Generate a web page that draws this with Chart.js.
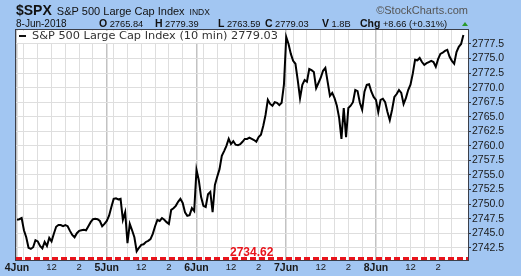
<!doctype html>
<html lang="en">
<head>
<meta charset="utf-8">
<title>$SPX</title>
<script src="https://cdn.jsdelivr.net/npm/chart.js@4"></script>
<style>
	html, body { margin: 0; padding: 0; background: #a2c6f2; }
	#wrap { width: 521px; height: 276px; }
</style>
</head>
<body>
<div id="wrap"><canvas id="spxChart" width="521" height="276"></canvas></div>
<script>
// 10 minute closes, 39 bars per session
const days = ['4Jun', '5Jun', '6Jun', '7Jun', '8Jun'];
const barsPerDay = 39;
const jun4 = [2747.3, 2747.4, 2747.6, 2745.5, 2744.3, 2742.5, 2742.3, 2742.6, 2743.8, 2743.6,
	2742.8, 2742.4, 2743.5, 2742.8, 2744.2, 2743.6, 2744.9, 2746.1, 2746.4, 2746.4,
	2746.2, 2746.4, 2746.2, 2745.4, 2744.7, 2744.3, 2745.0, 2745.4, 2745.5, 2745.6,
	2745.5, 2746.2, 2746.9, 2747.4, 2747.5, 2747.4, 2747.1, 2746.2, 2746.6];
const jun5 = [2747.1, 2748.0, 2749.5, 2750.9, 2751.0, 2750.8, 2750.9, 2747.3, 2748.6, 2743.3,
	2746.6, 2745.5, 2744.3, 2741.9, 2742.5, 2743.0, 2743.1, 2743.5, 2743.7, 2744.0,
	2744.9, 2746.2, 2747.3, 2747.1, 2747.6, 2747.3, 2746.9, 2746.6, 2749.0, 2749.3,
	2749.7, 2750.4, 2750.9, 2750.2, 2748.6, 2748.0, 2748.1, 2749.3, 2748.8];
const jun6 = [2755.9, 2754.1, 2751.2, 2749.7, 2749.5, 2751.7, 2752.1, 2748.6, 2753.3, 2754.7,
	2756.0, 2758.3, 2759.1, 2760.0, 2761.2, 2760.3, 2760.8, 2760.2, 2760.1, 2760.3,
	2760.7, 2761.2, 2761.2, 2761.4, 2761.2, 2761.0, 2760.7, 2761.5, 2761.9, 2763.4,
	2765.3, 2767.9, 2767.2, 2766.9, 2767.5, 2767.4, 2767.0, 2767.4, 2770.5];
const jun7 = [2778.7, 2777.5, 2775.8, 2774.6, 2774.1, 2771.3, 2768.2, 2770.5, 2771.3, 2771.0,
	2773.2, 2773.0, 2772.7, 2769.9, 2770.8, 2771.7, 2772.9, 2773.4, 2771.0, 2768.6,
	2769.1, 2768.2, 2766.9, 2764.8, 2761.2, 2766.5, 2761.5, 2766.5, 2766.9, 2767.5,
	2769.6, 2769.4, 2767.4, 2766.2, 2769.3, 2770.5, 2770.6, 2769.3, 2768.4];
const jun8 = [2767.9, 2765.8, 2767.9, 2768.1, 2767.5, 2765.8, 2764.4, 2766.2, 2768.4, 2768.9,
	2769.6, 2769.1, 2767.2, 2768.2, 2769.6, 2770.5, 2772.4, 2774.8, 2774.7, 2775.1,
	2774.4, 2773.9, 2774.2, 2774.4, 2774.6, 2774.4, 2773.6, 2774.9, 2775.8, 2776.0,
	2776.3, 2776.5, 2775.3, 2774.6, 2774.1, 2776.1, 2777.0, 2777.5, 2779.03];

const yTicks = [2742.5, 2745.0, 2747.5, 2750.0, 2752.5, 2755.0, 2757.5, 2760.0,
	2762.5, 2765.0, 2767.5, 2770.0, 2772.5, 2775.0, 2777.5];
const hourBars = [0, 3, 9, 15, 21, 27, 33]; // grid lines inside a session
const noonBar = 15, twoBar = 27;
const prevClose = 2734.62;

const header = {
	symbol: '$SPX', name: 'S&P 500 Large Cap Index', exch: 'INDX', date: '8-Jun-2018',
	quote: [['O', '2765.84'], ['H', '2779.39'], ['L', '2763.59'], ['C', '2779.03'], ['V', '1.8B'], ['Chg', '+8.66 (+0.31%)']],
	legend: 'S&P 500 Large Cap Index (10 min) 2779.03'
};

var closes = [].concat(jun4, jun5, jun6, jun7, jun8);
var points = closes.map((v, i) => ({x: i, y: v}));

var xTickVals = [];
days.forEach((d, k) => hourBars.forEach(h => xTickVals.push(k * barsPerDay + h)));

const SANS = '"Liberation Sans", Arial, sans-serif';

const decor = {
	id: 'decor',
	beforeDraw(chart) {
		const c = chart.ctx, a = chart.chartArea;
		c.save();
		c.fillStyle = '#a2c6f2';
		c.fillRect(0, 0, chart.width, chart.height);
		c.fillStyle = '#ffffff';
		c.fillRect(a.left, a.top, a.right - a.left, a.bottom - a.top);
		c.restore();
	},
	beforeDatasetsDraw(chart) {
		const c = chart.ctx, a = chart.chartArea;
		c.save();
		// legend box
		c.fillStyle = '#ffffff';
		c.fillRect(a.left + 1, a.top + 1, 264, 12);
		c.strokeStyle = '#111';
		c.lineWidth = 2;
		c.beginPath(); c.moveTo(a.left + 3, a.top + 6); c.lineTo(a.left + 10, a.top + 6); c.stroke();
		c.font = '10px "DejaVu Sans", Verdana, sans-serif';
		var w = c.measureText(header.legend).width;
		var fs = 10 * 246 / w;
		c.font = fs.toFixed(2) + 'px "DejaVu Sans", Verdana, sans-serif';
		c.fillStyle = '#333';
		c.textBaseline = 'middle';
		c.fillText(header.legend, a.left + 16, a.top + 6);
		// previous close line, off the scale so pinned to the bottom
		var yScale = chart.scales.y;
		var py = Math.min(yScale.getPixelForValue(prevClose), a.bottom - 1.5);
		c.strokeStyle = '#e8141c';
		c.lineWidth = 3;
		c.setLineDash([6, 3]);
		c.beginPath(); c.moveTo(a.left, py); c.lineTo(a.right, py); c.stroke();
		c.setLineDash([]);
		c.font = 'bold 12px ' + SANS;
		c.fillStyle = '#e8141c';
		c.textBaseline = 'alphabetic';
		c.fillText(prevClose.toFixed(2), 230, py - 3);
		c.restore();
	},
	afterDraw(chart) {
		const c = chart.ctx, a = chart.chartArea;
		c.save();
		// plot frame
		c.strokeStyle = '#3b3f4a';
		c.lineWidth = 1;
		c.strokeRect(a.left - 0.5, a.top - 0.5, a.right - a.left + 1, a.bottom - a.top + 1);
		// title line
		c.fillStyle = '#111';
		c.textBaseline = 'alphabetic';
		c.font = 'bold 14px ' + SANS;
		c.fillText(header.symbol, 16, 15);
		var x = 16 + c.measureText(header.symbol).width + 5;
		c.font = '11px ' + SANS;
		c.fillText(header.name, x, 15);
		x += c.measureText(header.name).width + 5;
		c.font = '8.5px ' + SANS;
		c.fillText(header.exch, x, 15);
		c.font = '10px ' + SANS;
		c.fillText(header.date, 16, 27);
		// quote line
		var qx = [99, 155, 218, 265, 322, 360];
		header.quote.forEach((q, i) => {
			c.font = 'bold 10.5px ' + SANS;
			c.fillText(q[0], qx[i], 27);
			var lw = c.measureText(q[0]).width;
			c.font = '9.3px ' + SANS;
			c.fillText(q[1], qx[i] + lw + 2.5, 27);
		});
		c.fillStyle = '#2a9a2a';
		c.beginPath(); c.moveTo(462, 26); c.lineTo(468, 26); c.lineTo(465, 22); c.closePath(); c.fill();
		c.fillStyle = '#555';
		c.font = '11px ' + SANS;
		c.textAlign = 'right';
		c.fillText('\u00A9StockCharts.com', 468, 14);
		c.restore();
	}
};

new Chart(document.getElementById('spxChart'), {
	type: 'line',
	data: {
		datasets: [{
			label: header.legend,
			data: points,
			borderColor: '#000',
			borderWidth: 2,
			pointRadius: 0,
			tension: 0
		}]
	},
	options: {
		responsive: false,
		animation: false,
		events: [],
		layout: {padding: {top: 30, left: 16, right: 0, bottom: 0}},
		plugins: {legend: {display: false}, tooltip: {enabled: false}},
		scales: {
			x: {
				type: 'linear',
				min: -0.45,
				max: 196,
				afterBuildTicks: s => { s.ticks = xTickVals.map(v => ({value: v})); },
				afterFit: s => { s.height = 16; },
				border: {display: false},
				grid: {
					drawTicks: false,
					color: ctx => (ctx.tick && ctx.tick.value % barsPerDay === 0) ? '#c2c2c2' : '#dedede',
					lineWidth: ctx => (ctx.tick && ctx.tick.value % barsPerDay === 0) ? 1.5 : 1
				},
				ticks: {
					autoSkip: false,
					maxRotation: 0,
					padding: 2,
					color: '#1a1a1a',
					font: ctx => (ctx.tick && ctx.tick.value % barsPerDay === 0)
						? {family: SANS, size: 10.5, weight: 'bold'}
						: {family: SANS, size: 9.5},
					callback: v => {
						var d = v % barsPerDay;
						if (d === 0) return days[v / barsPerDay];
						if (d === noonBar) return '12';
						if (d === twoBar) return '2';
						return '';
					}
				}
			},
			y: {
				position: 'right',
				min: 2740.4,
				max: 2779.9,
				afterBuildTicks: s => { s.ticks = yTicks.map(v => ({value: v})); },
				afterFit: s => { s.width = 53; },
				border: {display: false},
				grid: {color: '#dedede', tickColor: '#333', tickLength: 3},
				ticks: {
					padding: 1,
					color: '#1a1a1a',
					font: {family: SANS, size: 10.5},
					callback: v => v.toFixed(1)
				}
			}
		}
	},
	plugins: [decor]
});
</script>
</body>
</html>
